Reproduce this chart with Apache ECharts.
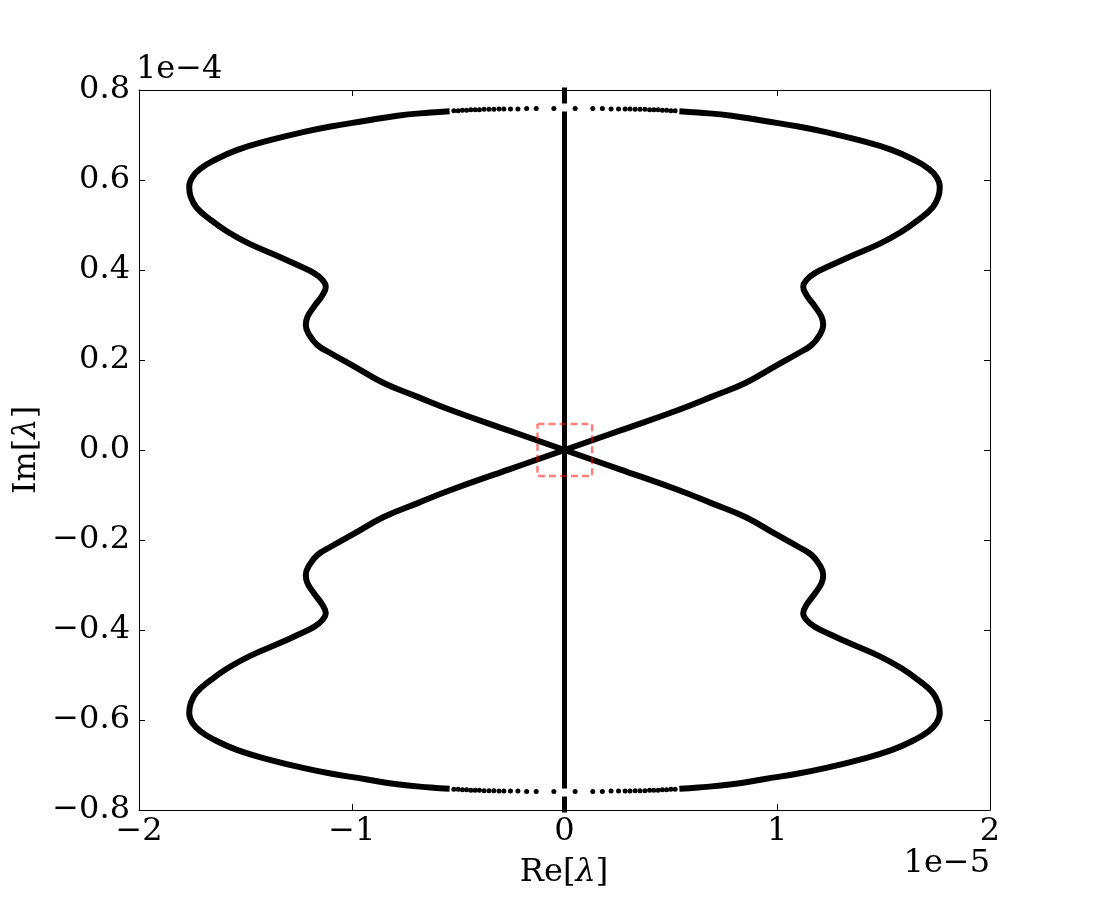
<!DOCTYPE html>
<html>
<head>
<meta charset="utf-8">
<script src="https://cdn.jsdelivr.net/npm/echarts@6/dist/echarts.min.js"></script>
<style>
  html, body { margin: 0; padding: 0; background: #fff; }
  #chart { width: 1100px; height: 900px; }
</style>
</head>
<body>
<div id="chart"></div>
<script>
"use strict";

// Re in units of 1e-5, Im in units of 1e-4
// upper-left branch, dense part (from near the top down to the origin)
var branchUpperLeft = [
	[-0.540, 0.753], [-0.629, 0.750], [-0.786, 0.743],
	[-0.942, 0.731], [-1.099, 0.719], [-1.224, 0.707], [-1.380, 0.689],
	[-1.537, 0.667], [-1.646, 0.644], [-1.709, 0.626], [-1.748, 0.607],
	[-1.764, 0.585], [-1.757, 0.563], [-1.730, 0.539], [-1.662, 0.511],
	[-1.584, 0.485], [-1.480, 0.458], [-1.333, 0.428], [-1.255, 0.411],
	[-1.177, 0.393], [-1.138, 0.378], [-1.122, 0.363], [-1.138, 0.344],
	[-1.177, 0.319], [-1.208, 0.296], [-1.216, 0.278], [-1.200, 0.256],
	[-1.161, 0.233], [-1.099, 0.215], [-0.989, 0.186], [-0.850, 0.149],
	[-0.690, 0.118], [-0.535, 0.089], [-0.260, 0.043], [0, 0]
];

// separate points near the top, left of Re = 0
var sparseUpperLeft = [
	[-0.050, 0.759], [-0.133, 0.759], [-0.178, 0.759], [-0.219, 0.758],
	[-0.254, 0.758], [-0.285, 0.758], [-0.308, 0.758], [-0.332, 0.757],
	[-0.355, 0.757], [-0.378, 0.757], [-0.400, 0.756], [-0.420, 0.756],
	[-0.440, 0.756], [-0.460, 0.755], [-0.480, 0.755], [-0.500, 0.754],
	[-0.520, 0.754]
];

// points on Re = 0 (main line plus the short pieces at the ends)
var axisLineMain = [[0, 0.752], [0, -0.752]];
var axisLineTop = [[0, 0.770], [0, 0.85]];
var axisLineBottom = [[0, -0.770], [0, -0.85]];

// zoom box round the origin
var zoomBox = [[-0.127, 0.058], [0.130, 0.058], [0.130, -0.058], [-0.127, -0.058], [-0.127, 0.058]];

var xTicks = { min: -2, max: 2, interval: 1 };
var yTicks = { min: -0.8, max: 0.8, interval: 0.2 };

// the spectrum is symmetric in both axes
function mirror(points, sx, sy) {
	return points.map(function(p) { return [p[0] * sx, p[1] * sy]; });
}

var myChart = echarts.init(document.getElementById('chart'));

var serif = 'DejaVu Serif';
var black = '#000';
var fontPx = 32;

function curve(data) {
	return {
		type: 'line',
		data: data,
		smooth: 0.45,
		showSymbol: false,
		lineStyle: { color: black, width: 6 },
		z: 2
	};
}

function dots(data) {
	return {
		type: 'scatter',
		data: data,
		symbolSize: 5,
		itemStyle: { color: black, opacity: 1 },
		z: 2
	};
}

function vline(data) {
	return {
		type: 'line',
		data: data,
		showSymbol: false,
		lineStyle: { color: black, width: 5 },
		z: 2
	};
}

function minus(s) {
	return String(s).replace('-', '\u2212');
}

var baseAxis = {
	type: 'value',
	axisLine: { show: true, onZero: false, lineStyle: { color: black, width: 1 } },
	axisTick: { show: true, inside: true, length: 6, lineStyle: { color: black } },
	splitLine: { show: false }
};

var option = {
	animation: false,
	backgroundColor: '#fff',
	grid: { left: 139, top: 90, width: 851, height: 720 },
	xAxis: [
		Object.assign({}, baseAxis, {
			position: 'bottom',
			min: xTicks.min, max: xTicks.max, interval: xTicks.interval,
			axisLabel: {
				margin: 6,
				fontFamily: serif, fontSize: fontPx, color: black,
				formatter: function(v) { return minus(v); }
			}
		}),
		Object.assign({}, baseAxis, {
			position: 'top',
			min: xTicks.min, max: xTicks.max, interval: xTicks.interval,
			axisLabel: { show: false }
		})
	],
	yAxis: [
		Object.assign({}, baseAxis, {
			position: 'left',
			min: yTicks.min, max: yTicks.max, interval: yTicks.interval,
			axisLabel: {
				margin: 9,
				fontFamily: serif, fontSize: fontPx, color: black,
				formatter: function(v) { return minus(v.toFixed(1)); }
			}
		}),
		Object.assign({}, baseAxis, {
			position: 'right',
			min: yTicks.min, max: yTicks.max, interval: yTicks.interval,
			axisLabel: { show: false }
		})
	],
	graphic: [
		{
			type: 'text', left: 136, top: 54,
			style: { text: '1e\u22124', font: fontPx + 'px "DejaVu Serif"', fill: black }
		},
		{
			type: 'text', right: 110, top: 848,
			style: { text: '1e\u22125', font: fontPx + 'px "DejaVu Serif"', fill: black, align: 'right' }
		},
		{
			type: 'text', x: 564, y: 873,
			style: {
				text: '{n|Re[}{i|\u03bb}{n|]}',
				align: 'center', verticalAlign: 'middle',
				rich: {
					n: { fontFamily: serif, fontSize: fontPx, fill: black },
					i: { fontFamily: serif, fontSize: fontPx, fontStyle: 'italic', fill: black }
				}
			}
		},
		{
			type: 'text', x: 27, y: 450, rotation: Math.PI / 2,
			style: {
				text: '{n|Im[}{i|\u03bb}{n|]}',
				align: 'center', verticalAlign: 'middle',
				rich: {
					n: { fontFamily: serif, fontSize: fontPx, fill: black },
					i: { fontFamily: serif, fontSize: fontPx, fontStyle: 'italic', fill: black }
				}
			}
		}
	],
	series: [
		curve(branchUpperLeft),
		curve(mirror(branchUpperLeft, -1, 1)),
		curve(mirror(branchUpperLeft, 1, -1)),
		curve(mirror(branchUpperLeft, -1, -1)),
		dots(sparseUpperLeft),
		dots(mirror(sparseUpperLeft, -1, 1)),
		dots(mirror(sparseUpperLeft, 1, -1)),
		dots(mirror(sparseUpperLeft, -1, -1)),
		vline(axisLineMain),
		vline(axisLineTop),
		vline(axisLineBottom),
		{
			type: 'line',
			data: zoomBox,
			showSymbol: false,
			lineStyle: { color: 'rgba(255, 0, 0, 0.5)', width: 2.5, type: [7, 4] },
			z: 5
		}
	]
};

myChart.setOption(option);
</script>
</body>
</html>
